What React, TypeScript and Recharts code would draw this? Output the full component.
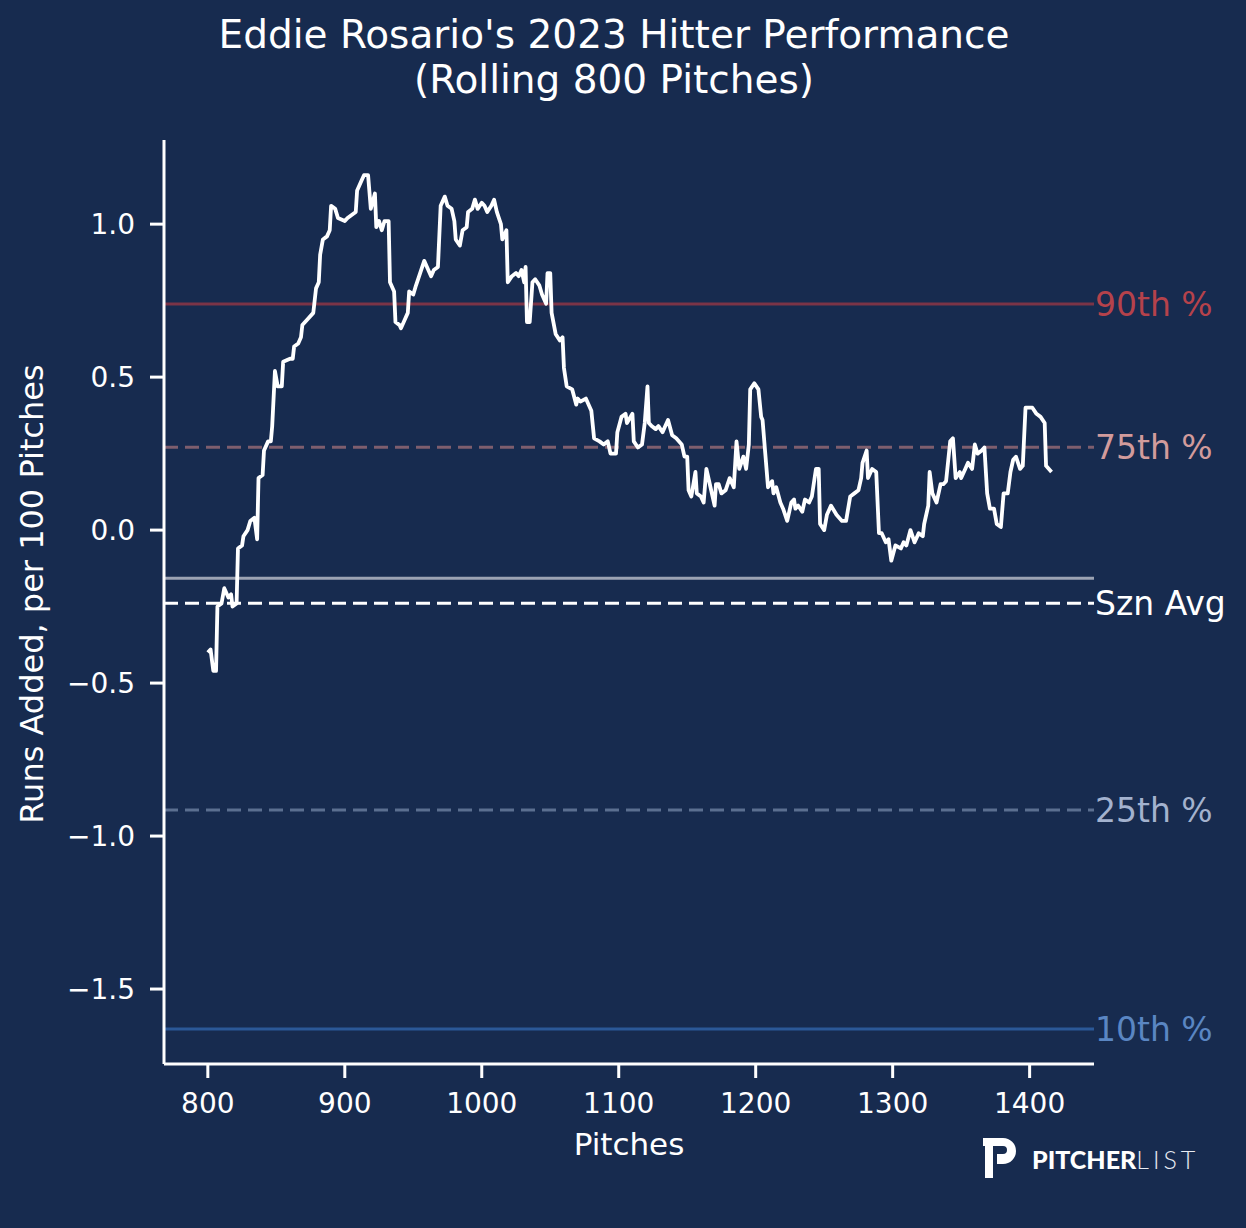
import { LineChart, Line, XAxis, YAxis, ReferenceLine } from "recharts";

const pitches = [
  800, 802, 804, 806, 807, 810, 812, 815, 817, 818, 821, 822, 825, 826, 829, 831, 834, 836, 837, 840,
  841, 844, 846, 847, 849, 851, 854, 855, 860, 862, 863, 866, 868, 869, 873, 877, 879, 881, 882, 884,
  887, 889, 890, 893, 895, 900, 902, 905, 908, 909, 912, 914, 917, 919, 922, 923, 925, 927, 929, 932,
  933, 936, 937, 940, 941, 944, 946, 947, 950, 952, 955, 958, 960, 963, 965, 968, 970, 973, 975, 978,
  980, 981, 984, 986, 989, 990, 993, 995, 997, 1000, 1002, 1004, 1007, 1009, 1011, 1014, 1015, 1018, 1019, 1022,
  1025, 1027, 1029, 1031, 1032, 1033, 1035, 1037, 1039, 1042, 1044, 1047, 1048, 1050, 1051, 1054, 1057, 1059, 1060, 1062,
  1066, 1069, 1070, 1072, 1076, 1080, 1082, 1086, 1089, 1092, 1094, 1098, 1099, 1102, 1105, 1106, 1110, 1111, 1114, 1117,
  1119, 1121, 1122, 1124, 1127, 1129, 1132, 1134, 1136, 1139, 1142, 1146, 1148, 1150, 1151, 1153, 1156, 1157, 1160, 1162,
  1164, 1167, 1170, 1171, 1173, 1175, 1178, 1181, 1184, 1186, 1188, 1191, 1193, 1195, 1196, 1199, 1202, 1204, 1205, 1207,
  1209, 1212, 1213, 1215, 1218, 1220, 1223, 1226, 1228, 1229, 1231, 1234, 1236, 1239, 1241, 1244, 1246, 1247, 1250, 1252,
  1255, 1259, 1263, 1266, 1269, 1272, 1275, 1277, 1278, 1281, 1282, 1285, 1288, 1290, 1292, 1295, 1297, 1299, 1302, 1306,
  1308, 1310, 1313, 1316, 1319, 1322, 1323, 1326, 1327, 1329, 1332, 1335, 1337, 1339, 1342, 1344, 1346, 1349, 1350, 1353,
  1355, 1358, 1360, 1362, 1365, 1367, 1369, 1371, 1374, 1376, 1379, 1381, 1384, 1386, 1388, 1390, 1393, 1395, 1397, 1401,
  1402, 1405, 1408, 1411, 1412, 1416,
];

const runsAdded = [
  -0.4, -0.39, -0.46, -0.46, -0.25, -0.24, -0.19, -0.22, -0.21, -0.25, -0.24, -0.06, -0.05, -0.02, 0.0, 0.03, 0.04, -0.03, 0.17, 0.18,
  0.26, 0.29, 0.29, 0.34, 0.52, 0.47, 0.47, 0.55, 0.56, 0.56, 0.6, 0.61, 0.63, 0.67, 0.69, 0.71, 0.79, 0.81, 0.9, 0.95,
  0.96, 0.98, 1.06, 1.05, 1.02, 1.01, 1.02, 1.03, 1.04, 1.11, 1.14, 1.16, 1.16, 1.05, 1.1, 0.99, 1.01, 0.98, 1.01, 1.01,
  0.81, 0.78, 0.68, 0.67, 0.66, 0.69, 0.71, 0.78, 0.77, 0.8, 0.84, 0.88, 0.86, 0.83, 0.85, 0.86, 1.06, 1.09, 1.06, 1.05,
  1.01, 0.95, 0.93, 0.98, 0.99, 1.04, 1.05, 1.08, 1.05, 1.07, 1.06, 1.04, 1.06, 1.08, 1.04, 1.0, 0.95, 0.98, 0.81, 0.83,
  0.84, 0.83, 0.85, 0.81, 0.86, 0.68, 0.68, 0.81, 0.82, 0.8, 0.77, 0.74, 0.84, 0.84, 0.71, 0.64, 0.62, 0.63, 0.53, 0.47,
  0.46, 0.41, 0.43, 0.42, 0.43, 0.39, 0.3, 0.29, 0.28, 0.29, 0.25, 0.25, 0.32, 0.37, 0.38, 0.35, 0.38, 0.29, 0.27, 0.28,
  0.35, 0.47, 0.35, 0.34, 0.33, 0.34, 0.32, 0.34, 0.36, 0.31, 0.3, 0.28, 0.24, 0.24, 0.13, 0.11, 0.19, 0.12, 0.11, 0.09,
  0.2, 0.14, 0.08, 0.15, 0.15, 0.12, 0.13, 0.17, 0.14, 0.29, 0.2, 0.24, 0.2, 0.28, 0.46, 0.48, 0.46, 0.37, 0.36, 0.25,
  0.14, 0.16, 0.12, 0.14, 0.09, 0.07, 0.03, 0.09, 0.1, 0.07, 0.08, 0.06, 0.1, 0.09, 0.11, 0.2, 0.2, 0.02, 0.0, 0.05,
  0.08, 0.05, 0.03, 0.03, 0.11, 0.12, 0.13, 0.17, 0.22, 0.26, 0.17, 0.2, 0.19, -0.01, -0.01, -0.04, -0.03, -0.1, -0.05, -0.06,
  -0.04, -0.05, 0.0, -0.04, -0.01, -0.02, 0.02, 0.08, 0.19, 0.12, 0.09, 0.15, 0.15, 0.16, 0.29, 0.3, 0.17, 0.19, 0.17, 0.2,
  0.22, 0.2, 0.28, 0.25, 0.26, 0.27, 0.12, 0.07, 0.07, 0.02, 0.01, 0.12, 0.12, 0.19, 0.23, 0.24, 0.2, 0.21, 0.4, 0.4,
  0.4, 0.38, 0.37, 0.35, 0.21, 0.19,
];

const xTicks = [800, 900, 1000, 1100, 1200, 1300, 1400];
const yTicks = [-1.5, -1.0, -0.5, 0.0, 0.5, 1.0];

const percentileLabels = ["90th %", "75th %", "25th %", "10th %"];
const percentileValues = [0.739, 0.271, -0.915, -1.631];
const leagueAvg = -0.157;
const seasonAvg = -0.239;

const data = pitches.map((p, i) => ({ pitch: p, value: runsAdded[i] }));

const BG = "#172b4f";
const FONT = "DejaVu Sans, sans-serif";

const lineStyles = [
  { stroke: "#7b3447", dash: undefined, labelColor: "#b5424b" },
  { stroke: "#7e5e6e", dash: "14 7", labelColor: "#d29b9c" },
  { stroke: "#5b6f90", dash: "14 7", labelColor: "#a3b2ce" },
  { stroke: "#2b5897", dash: undefined, labelColor: "#5a86c3" },
];

const fmt = (v: number) => {
  const s = Math.abs(v).toFixed(1);
  return v < 0 ? "\u2212" + s : s;
};

const axisStroke = { stroke: "#ffffff", strokeWidth: 3 };

export default function App() {
  return (
    <div
      style={{
        position: "absolute",
        left: 0,
        top: 0,
        width: 1246,
        height: 1228,
        background: BG,
        fontFamily: FONT,
        color: "#fff",
      }}
    >
      <div
        style={{
          position: "absolute",
          left: 0,
          width: 1228,
          top: 12,
          textAlign: "center",
          fontSize: 39,
          lineHeight: "45px",
        }}
      >
        Eddie Rosario's 2023 Hitter Performance
        <br />
        (Rolling 800 Pitches)
      </div>

      <LineChart
        width={1246}
        height={1228}
        data={data}
        margin={{ top: 140, right: 152, bottom: 64, left: 24 }}
        style={{ position: "absolute", left: 0, top: 0 }}
      >
        <XAxis
          type="number"
          dataKey="pitch"
          domain={[768, 1447]}
          ticks={xTicks}
          allowDataOverflow
          height={100}
          axisLine={axisStroke}
          tickLine={axisStroke}
          tickSize={14}
          tickMargin={15}
          tick={{ fill: "#ffffff", fontSize: 28, fontFamily: FONT }}
          label={{
            value: "Pitches",
            position: "insideBottom",
            offset: 9,
            fill: "#ffffff",
            fontSize: 31,
            fontFamily: FONT,
          }}
        />
        <YAxis
          type="number"
          domain={[-1.745, 1.275]}
          ticks={yTicks}
          allowDataOverflow
          width={140}
          axisLine={axisStroke}
          tickLine={axisStroke}
          tickSize={14}
          tickMargin={15}
          tickFormatter={fmt}
          tick={{ fill: "#ffffff", fontSize: 28, fontFamily: FONT }}
          label={{
            value: "Runs Added, per 100 Pitches",
            angle: -90,
            position: "insideLeft",
            offset: 8,
            dy: -8,
            fill: "#ffffff",
            fontSize: 32,
            fontFamily: FONT,
            style: { textAnchor: "middle" },
          }}
        />
        {percentileValues.map((v, i) => (
          <ReferenceLine
            key={percentileLabels[i]}
            y={v}
            stroke={lineStyles[i].stroke}
            strokeWidth={3}
            strokeDasharray={lineStyles[i].dash}
            label={{
              value: percentileLabels[i],
              position: "right",
              offset: 1,
              fill: lineStyles[i].labelColor,
              fontSize: 33,
              fontFamily: FONT,
            }}
          />
        ))}
        <ReferenceLine y={leagueAvg} stroke="#9ca3b3" strokeWidth={3} />
        <ReferenceLine
          y={seasonAvg}
          stroke="#ffffff"
          strokeWidth={3}
          strokeDasharray="14 7"
          label={{
            value: "Szn Avg",
            position: "right",
            offset: 1,
            fill: "#ffffff",
            fontSize: 33,
            fontFamily: FONT,
          }}
        />
        <Line
          type="linear"
          dataKey="value"
          stroke="#ffffff"
          strokeWidth={3.8}
          strokeLinejoin="round"
          dot={false}
          isAnimationActive={false}
        />
      </LineChart>

      <svg
        width={40}
        height={44}
        viewBox="0 0 40 44"
        style={{ position: "absolute", left: 981, top: 1136 }}
      >
        <path
          d="M2 2 H22 A13 13 0 0 1 22 28 H16 V18 H22 A4 4 0 0 0 22 10 H12 V42 H4 V10 H2 Z"
          fill="#ffffff"
        />
      </svg>
      <div
        style={{
          position: "absolute",
          left: 1032,
          top: 1144,
          fontSize: 25,
          lineHeight: "30px",
          fontFamily: "Lato, sans-serif",
          whiteSpace: "nowrap",
        }}
      >
        <span style={{ fontWeight: 900 }}>PITCHER</span>
        <span style={{ fontWeight: 300, letterSpacing: 4, color: "#e8ecf3" }}>LIST</span>
      </div>
    </div>
  );
}
